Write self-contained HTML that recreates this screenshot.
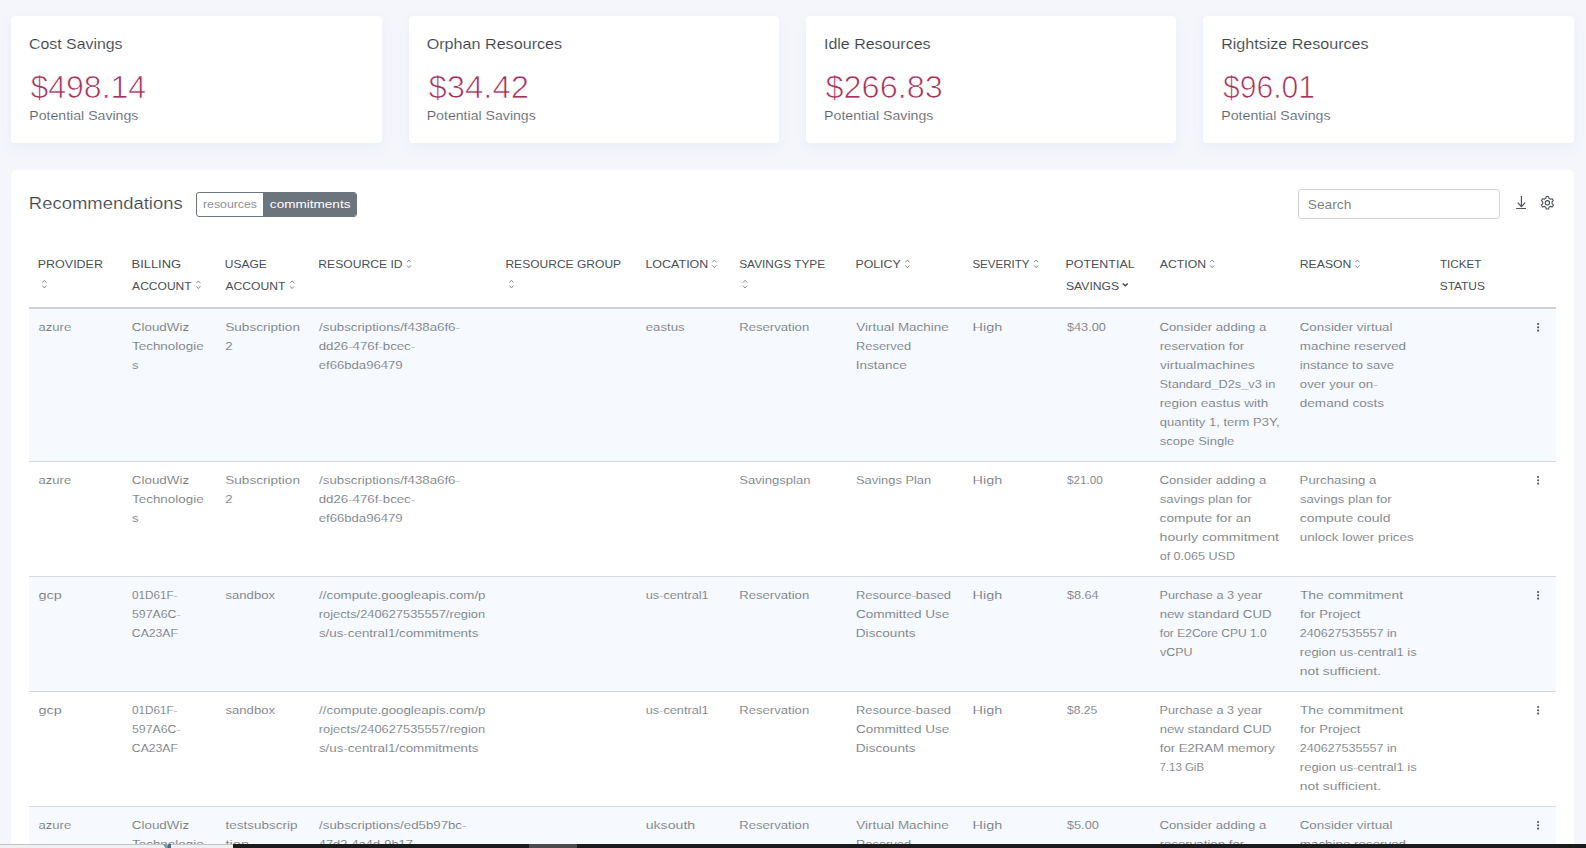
<!DOCTYPE html>
<html lang="en">
<head>
<meta charset="utf-8">
<title>Recommendations</title>
<style>
*{box-sizing:border-box;margin:0;padding:0}
html,body{width:1586px;height:848px;overflow:hidden;background:#f4f6fb;font-family:"Liberation Sans",sans-serif;color:#6f757c}
body{position:relative}
.card{position:absolute;top:16px;height:127px;background:#fff;border-radius:4px;box-shadow:0 5px 12px rgba(140,160,215,.085)}
.panel{position:absolute;left:11px;top:170px;width:1563px;height:700px;background:#fff;border-radius:5px}
.x{position:absolute;left:0;white-space:nowrap;transform-origin:0 0;display:block}
.b{font-size:11.6px;line-height:19px;height:19px;-webkit-text-stroke:.2px #fff;color:#62686f}
.bo{-webkit-text-stroke-color:#f6f9fe}
.h{font-size:11.6px;line-height:22px;height:22px;color:#495057}
.ct{font-size:14.6px;line-height:20px;color:#3d444b;-webkit-text-stroke:.12px #fff}
.cv{font-size:30.6px;line-height:38px;color:#a2335c;-webkit-text-stroke:.7px #fff}
.cs{font-size:12.9px;line-height:18px;color:#5e656d;-webkit-text-stroke:.12px #fff}
.title{font-size:15.6px;line-height:24px;color:#3a4148;-webkit-text-stroke:.2px #fff}
.tabs{position:absolute;left:196px;top:192px;height:25px;width:161px;border:1px solid #6c757d;border-radius:3px;overflow:hidden}
.tabs i{position:absolute;left:66px;top:0;width:93px;height:23px;background:#6c757d}
.ta{font-size:11.6px;line-height:23px;color:#8a9097}
.tb{font-size:11.6px;line-height:23px;color:#fff}
.search{position:absolute;left:1298px;top:189px;width:202px;height:30px;border:1px solid #ced4da;border-radius:3px;background:#fff}
.se{font-size:13.2px;line-height:20px;color:#7d848c}
.ico{position:absolute}
.st{position:absolute;left:29px;width:1527px;background:#f6f9fe}
.ln{position:absolute;left:29px;width:1527px;height:1px;background:#d5d9dd}
.bar{position:absolute;left:0;top:844px;width:1586px;height:4px;background:#1c1c1c}
.bar .l{position:absolute;left:0;top:0;width:233px;height:4px;background:#f0f0f0;border-top:1px solid #c4c4c4}
.bar .m{position:absolute;left:529px;top:0;width:48px;height:4px;background:#4b4b4b}
</style>
</head>
<body>
<div class="card" style="left:11px;width:371px"></div>
<div class="card" style="left:409px;width:370px"></div>
<div class="card" style="left:806px;width:370px"></div>
<div class="card" style="left:1203px;width:371px"></div>
<div class="panel" style="left:11px"></div>
<span class="x ct" style="top:34px;transform:matrix(1.0886,0,0,1,28.95,0)">Cost Savings</span>
<span class="x cv" style="top:68px;transform:matrix(1.0469,0,0,1,30.40,0)">$498.14</span>
<span class="x cs" style="top:107px;transform:matrix(1.0950,0,0,1,29.30,0)">Potential Savings</span>
<span class="x ct" style="top:34px;transform:matrix(1.1063,0,0,1,426.64,0)">Orphan Resources</span>
<span class="x cv" style="top:68px;transform:matrix(1.0752,0,0,1,428.40,0)">$34.42</span>
<span class="x cs" style="top:107px;transform:matrix(1.0950,0,0,1,426.70,0)">Potential Savings</span>
<span class="x ct" style="top:34px;transform:matrix(1.0952,0,0,1,823.95,0)">Idle Resources</span>
<span class="x cv" style="top:68px;transform:matrix(1.0606,0,0,1,825.50,0)">$266.83</span>
<span class="x cs" style="top:107px;transform:matrix(1.0970,0,0,1,824.09,0)">Potential Savings</span>
<span class="x ct" style="top:34px;transform:matrix(1.1014,0,0,1,1221.14,0)">Rightsize Resources</span>
<span class="x cv" style="top:68px;transform:matrix(0.9832,0,0,1,1223.00,0)">$96.01</span>
<span class="x cs" style="top:107px;transform:matrix(1.0970,0,0,1,1221.29,0)">Potential Savings</span>
<span class="x title" style="top:192px;transform:matrix(1.1826,0,0,1,28.86,0)">Recommendations</span>
<div class="tabs"><i></i></div>
<span class="x ta" style="top:192px;transform:matrix(1.0586,0,0,1,203.01,0)">resources</span>
<span class="x tb" style="top:192px;transform:matrix(1.1686,0,0,1,269.87,0)">commitments</span>
<div class="search"></div>
<span class="x se" style="top:195px;transform:matrix(1.0425,0,0,1,1307.77,0)">Search</span>
<svg class="ico" style="left:1516px;top:196px" width="11" height="14" viewBox="0 0 11 14"><path d="M5.4 0v10.4M1.7 6.7l3.7 3.9 3.7-3.9" fill="none" stroke="#495057" stroke-width="1.15"/><path d="M0.2 12.5h9.8" fill="none" stroke="#495057" stroke-width="1"/></svg>
<svg class="ico" style="left:1540px;top:195px" width="16" height="16" viewBox="0 0 16 16"><g fill="none" stroke="#495057" stroke-width="1.1" stroke-linejoin="round"><circle cx="7.4" cy="7.8" r="2.15"/><path d="M8.95 3.31 L8.56 1.56 L6.24 1.56 L5.85 3.31 L4.28 4.22 L2.57 3.68 L1.41 5.68 L2.74 6.89 L2.74 8.71 L1.41 9.92 L2.57 11.92 L4.28 11.38 L5.85 12.29 L6.24 14.04 L8.56 14.04 L8.95 12.29 L10.52 11.38 L12.23 11.92 L13.39 9.92 L12.06 8.71 L12.06 6.89 L13.39 5.68 L12.23 3.68 L10.52 4.22Z"/></g></svg>
<div class="ln" style="top:307px;height:2px;background:#ced2d7"></div>
<div class="st" style="top:309px;height:152px"></div><div class="ln" style="top:461px"></div>
<div class="ln" style="top:576px"></div><div class="st" style="top:577px;height:114px"></div><div class="ln" style="top:691px"></div>
<div class="ln" style="top:806px"></div><div class="st" style="top:807px;height:41px"></div>
<span class="x h" style="top:253px;transform:matrix(1.0759,0,0,1,37.78,0)">PROVIDER</span>
<svg class="ico" style="left:41px;top:278px" width="7" height="11" viewBox="0 0 7 11"><g transform="translate(0.80,0.70)"><path d="M0.5 3.9L2.55 1.6 4.6 3.9M0.5 7L2.55 9.3 4.6 7" fill="none" stroke="#848b92" stroke-width="1"/></g></svg>
<span class="x h" style="top:253px;transform:matrix(1.1121,0,0,1,131.54,0)">BILLING</span>
<span class="x h" style="top:275px;transform:matrix(1.0382,0,0,1,132.10,0)">ACCOUNT</span>
<svg class="ico" style="left:195px;top:279px" width="7" height="11" viewBox="0 0 7 11"><g transform="translate(0.80,0.30)"><path d="M0.5 3.9L2.55 1.6 4.6 3.9M0.5 7L2.55 9.3 4.6 7" fill="none" stroke="#848b92" stroke-width="1"/></g></svg>
<span class="x h" style="top:253px;transform:matrix(1.0338,0,0,1,224.82,0)">USAGE</span>
<span class="x h" style="top:275px;transform:matrix(1.0452,0,0,1,225.50,0)">ACCOUNT</span>
<svg class="ico" style="left:289px;top:279px" width="7" height="11" viewBox="0 0 7 11"><g transform="translate(0.60,0.30)"><path d="M0.5 3.9L2.55 1.6 4.6 3.9M0.5 7L2.55 9.3 4.6 7" fill="none" stroke="#848b92" stroke-width="1"/></g></svg>
<span class="x h" style="top:253px;transform:matrix(1.0457,0,0,1,318.31,0)">RESOURCE ID</span>
<svg class="ico" style="left:406px;top:258px" width="7" height="11" viewBox="0 0 7 11"><g transform="translate(0.40,0.40)"><path d="M0.5 3.9L2.55 1.6 4.6 3.9M0.5 7L2.55 9.3 4.6 7" fill="none" stroke="#848b92" stroke-width="1"/></g></svg>
<span class="x h" style="top:253px;transform:matrix(1.0385,0,0,1,505.41,0)">RESOURCE GROUP</span>
<svg class="ico" style="left:508px;top:278px" width="7" height="11" viewBox="0 0 7 11"><g transform="translate(0.90,0.70)"><path d="M0.5 3.9L2.55 1.6 4.6 3.9M0.5 7L2.55 9.3 4.6 7" fill="none" stroke="#848b92" stroke-width="1"/></g></svg>
<span class="x h" style="top:253px;transform:matrix(1.0785,0,0,1,645.38,0)">LOCATION</span>
<svg class="ico" style="left:711px;top:258px" width="7" height="11" viewBox="0 0 7 11"><g transform="translate(0.80,0.40)"><path d="M0.5 3.9L2.55 1.6 4.6 3.9M0.5 7L2.55 9.3 4.6 7" fill="none" stroke="#848b92" stroke-width="1"/></g></svg>
<span class="x h" style="top:253px;transform:matrix(1.0235,0,0,1,739.19,0)">SAVINGS TYPE</span>
<svg class="ico" style="left:742px;top:278px" width="7" height="11" viewBox="0 0 7 11"><g transform="translate(0.50,0.70)"><path d="M0.5 3.9L2.55 1.6 4.6 3.9M0.5 7L2.55 9.3 4.6 7" fill="none" stroke="#848b92" stroke-width="1"/></g></svg>
<span class="x h" style="top:253px;transform:matrix(1.0662,0,0,1,855.39,0)">POLICY</span>
<svg class="ico" style="left:904px;top:258px" width="7" height="11" viewBox="0 0 7 11"><g transform="translate(0.90,0.40)"><path d="M0.5 3.9L2.55 1.6 4.6 3.9M0.5 7L2.55 9.3 4.6 7" fill="none" stroke="#848b92" stroke-width="1"/></g></svg>
<span class="x h" style="top:253px;transform:matrix(0.9941,0,0,1,972.40,0)">SEVERITY</span>
<svg class="ico" style="left:1033px;top:258px" width="7" height="11" viewBox="0 0 7 11"><g transform="translate(0.60,0.40)"><path d="M0.5 3.9L2.55 1.6 4.6 3.9M0.5 7L2.55 9.3 4.6 7" fill="none" stroke="#848b92" stroke-width="1"/></g></svg>
<span class="x h" style="top:253px;transform:matrix(1.0735,0,0,1,1065.48,0)">POTENTIAL</span>
<span class="x h" style="top:275px;transform:matrix(1.0498,0,0,1,1065.98,0)">SAVINGS</span>
<svg class="ico" style="left:1121px;top:279px" width="8" height="11" viewBox="0 0 8 11"><g transform="translate(0.70,0.55)"><path d="M1 4L3.5 6.25 6 4" fill="none" stroke="#3d444c" stroke-width="1.4"/></g></svg>
<span class="x h" style="top:253px;transform:matrix(1.0584,0,0,1,1159.80,0)">ACTION</span>
<svg class="ico" style="left:1209px;top:258px" width="7" height="11" viewBox="0 0 7 11"><g transform="translate(0.60,0.40)"><path d="M0.5 3.9L2.55 1.6 4.6 3.9M0.5 7L2.55 9.3 4.6 7" fill="none" stroke="#848b92" stroke-width="1"/></g></svg>
<span class="x h" style="top:253px;transform:matrix(1.0528,0,0,1,1299.80,0)">REASON</span>
<svg class="ico" style="left:1354px;top:258px" width="7" height="11" viewBox="0 0 7 11"><g transform="translate(0.80,0.40)"><path d="M0.5 3.9L2.55 1.6 4.6 3.9M0.5 7L2.55 9.3 4.6 7" fill="none" stroke="#848b92" stroke-width="1"/></g></svg>
<span class="x h" style="top:253px;transform:matrix(1.0034,0,0,1,1439.95,0)">TICKET</span>
<span class="x h" style="top:275px;transform:matrix(1.0267,0,0,1,1439.69,0)">STATUS</span>
<span class="x b bo" style="top:317px;transform:matrix(1.1277,0,0,1,38.54,0)">azure</span>
<span class="x b bo" style="top:317px;transform:matrix(1.1549,0,0,1,131.81,0)">CloudWiz</span>
<span class="x b bo" style="top:336px;transform:matrix(1.1576,0,0,1,132.01,0)">Technologie</span>
<span class="x b bo" style="top:355px;transform:matrix(1.1275,0,0,1,132.11,0)">s</span>
<span class="x b bo" style="top:317px;transform:matrix(1.1705,0,0,1,225.26,0)">Subscription</span>
<span class="x b bo" style="top:336px;transform:matrix(1.1495,0,0,1,225.22,0)">2</span>
<span class="x b bo" style="top:317px;transform:matrix(1.1439,0,0,1,319.10,0)">/subscriptions/f438a6f6-</span>
<span class="x b bo" style="top:336px;transform:matrix(1.1418,0,0,1,318.74,0)">dd26-476f-bcec-</span>
<span class="x b bo" style="top:355px;transform:matrix(1.1313,0,0,1,318.74,0)">ef66bda96479</span>
<span class="x b bo" style="top:317px;transform:matrix(1.1417,0,0,1,645.74,0)">eastus</span>
<span class="x b bo" style="top:317px;transform:matrix(1.1321,0,0,1,739.17,0)">Reservation</span>
<span class="x b bo" style="top:317px;transform:matrix(1.1593,0,0,1,856.34,0)">Virtual Machine</span>
<span class="x b bo" style="top:336px;transform:matrix(1.1095,0,0,1,856.00,0)">Reserved</span>
<span class="x b bo" style="top:355px;transform:matrix(1.1631,0,0,1,855.78,0)">Instance</span>
<span class="x b bo" style="top:317px;transform:matrix(1.2457,0,0,1,972.52,0)">High</span>
<span class="x b bo" style="top:317px;transform:matrix(1.0994,0,0,1,1066.89,0)">$43.00</span>
<span class="x b bo" style="top:317px;transform:matrix(1.1334,0,0,1,1159.53,0)">Consider adding a</span>
<span class="x b bo" style="top:336px;transform:matrix(1.1402,0,0,1,1159.64,0)">reservation for</span>
<span class="x b bo" style="top:355px;transform:matrix(1.1772,0,0,1,1160.00,0)">virtualmachines</span>
<span class="x b bo" style="top:374px;transform:matrix(1.1010,0,0,1,1159.60,0)">Standard_D2s_v3 in</span>
<span class="x b bo" style="top:393px;transform:matrix(1.1631,0,0,1,1159.63,0)">region eastus with</span>
<span class="x b bo" style="top:412px;transform:matrix(1.1243,0,0,1,1159.64,0)">quantity 1, term P3Y,</span>
<span class="x b bo" style="top:431px;transform:matrix(1.1224,0,0,1,1159.81,0)">scope Single</span>
<span class="x b bo" style="top:317px;transform:matrix(1.1518,0,0,1,1299.72,0)">Consider virtual</span>
<span class="x b bo" style="top:336px;transform:matrix(1.1526,0,0,1,1299.84,0)">machine reserved</span>
<span class="x b bo" style="top:355px;transform:matrix(1.1250,0,0,1,1299.86,0)">instance to save</span>
<span class="x b bo" style="top:374px;transform:matrix(1.1376,0,0,1,1299.84,0)">over your on-</span>
<span class="x b bo" style="top:393px;transform:matrix(1.1665,0,0,1,1299.83,0)">demand costs</span>
<svg class="ico" style="left:1536px;top:322px" width="4" height="11" viewBox="0 0 4 11"><g transform="translate(0.60,0.80)"><g fill="#555c64"><circle cx="1.5" cy="1.2" r="1.1"/><circle cx="1.5" cy="4.5" r="1.1"/><circle cx="1.5" cy="7.8" r="1.1"/></g></g></svg>
<span class="x b" style="top:470px;transform:matrix(1.1277,0,0,1,38.54,0)">azure</span>
<span class="x b" style="top:470px;transform:matrix(1.1549,0,0,1,131.81,0)">CloudWiz</span>
<span class="x b" style="top:489px;transform:matrix(1.1576,0,0,1,132.01,0)">Technologie</span>
<span class="x b" style="top:508px;transform:matrix(1.1275,0,0,1,132.11,0)">s</span>
<span class="x b" style="top:470px;transform:matrix(1.1705,0,0,1,225.26,0)">Subscription</span>
<span class="x b" style="top:489px;transform:matrix(1.1495,0,0,1,225.22,0)">2</span>
<span class="x b" style="top:470px;transform:matrix(1.1439,0,0,1,319.10,0)">/subscriptions/f438a6f6-</span>
<span class="x b" style="top:489px;transform:matrix(1.1418,0,0,1,318.74,0)">dd26-476f-bcec-</span>
<span class="x b" style="top:508px;transform:matrix(1.1313,0,0,1,318.74,0)">ef66bda96479</span>
<span class="x b" style="top:470px;transform:matrix(1.1292,0,0,1,739.19,0)">Savingsplan</span>
<span class="x b" style="top:470px;transform:matrix(1.1112,0,0,1,855.99,0)">Savings Plan</span>
<span class="x b" style="top:470px;transform:matrix(1.2457,0,0,1,972.52,0)">High</span>
<span class="x b" style="top:470px;transform:matrix(1.0106,0,0,1,1066.90,0)">$21.00</span>
<span class="x b" style="top:470px;transform:matrix(1.1334,0,0,1,1159.53,0)">Consider adding a</span>
<span class="x b" style="top:489px;transform:matrix(1.1321,0,0,1,1159.81,0)">savings plan for</span>
<span class="x b" style="top:508px;transform:matrix(1.1821,0,0,1,1159.62,0)">compute for an</span>
<span class="x b" style="top:527px;transform:matrix(1.2203,0,0,1,1159.52,0)">hourly commitment</span>
<span class="x b" style="top:546px;transform:matrix(1.0828,0,0,1,1159.66,0)">of 0.065 USD</span>
<span class="x b" style="top:470px;transform:matrix(1.1331,0,0,1,1299.62,0)">Purchasing a</span>
<span class="x b" style="top:489px;transform:matrix(1.1283,0,0,1,1300.01,0)">savings plan for</span>
<span class="x b" style="top:508px;transform:matrix(1.2013,0,0,1,1299.81,0)">compute could</span>
<span class="x b" style="top:527px;transform:matrix(1.1550,0,0,1,1299.83,0)">unlock lower prices</span>
<svg class="ico" style="left:1536px;top:475px" width="4" height="11" viewBox="0 0 4 11"><g transform="translate(0.60,0.80)"><g fill="#555c64"><circle cx="1.5" cy="1.2" r="1.1"/><circle cx="1.5" cy="4.5" r="1.1"/><circle cx="1.5" cy="7.8" r="1.1"/></g></g></svg>
<span class="x b bo" style="top:585px;transform:matrix(1.2443,0,0,1,38.49,0)">gcp</span>
<span class="x b bo" style="top:585px;transform:matrix(1.0086,0,0,1,132.00,0)">01D61F-</span>
<span class="x b bo" style="top:604px;transform:matrix(1.0609,0,0,1,131.97,0)">597A6C-</span>
<span class="x b bo" style="top:623px;transform:matrix(1.0512,0,0,1,131.87,0)">CA23AF</span>
<span class="x b bo" style="top:585px;transform:matrix(1.1287,0,0,1,225.51,0)">sandbox</span>
<span class="x b bo" style="top:585px;transform:matrix(1.1477,0,0,1,319.10,0)">//compute.googleapis.com/p</span>
<span class="x b bo" style="top:604px;transform:matrix(1.1077,0,0,1,318.77,0)">rojects/240627535557/region</span>
<span class="x b bo" style="top:623px;transform:matrix(1.1512,0,0,1,318.90,0)">s/us-central1/commitments</span>
<span class="x b bo" style="top:585px;transform:matrix(1.0966,0,0,1,645.78,0)">us-central1</span>
<span class="x b bo" style="top:585px;transform:matrix(1.1321,0,0,1,739.17,0)">Reservation</span>
<span class="x b bo" style="top:585px;transform:matrix(1.1173,0,0,1,855.99,0)">Resource-based</span>
<span class="x b bo" style="top:604px;transform:matrix(1.1695,0,0,1,855.91,0)">Committed Use</span>
<span class="x b bo" style="top:623px;transform:matrix(1.1738,0,0,1,855.78,0)">Discounts</span>
<span class="x b bo" style="top:585px;transform:matrix(1.2457,0,0,1,972.52,0)">High</span>
<span class="x b bo" style="top:585px;transform:matrix(1.0899,0,0,1,1066.89,0)">$8.64</span>
<span class="x b bo" style="top:585px;transform:matrix(1.0911,0,0,1,1159.46,0)">Purchase a 3 year</span>
<span class="x b bo" style="top:604px;transform:matrix(1.1424,0,0,1,1159.64,0)">new standard CUD</span>
<span class="x b bo" style="top:623px;transform:matrix(1.0365,0,0,1,1159.84,0)">for E2Core CPU 1.0</span>
<span class="x b bo" style="top:642px;transform:matrix(1.0743,0,0,1,1160.00,0)">vCPU</span>
<span class="x b bo" style="top:585px;transform:matrix(1.1958,0,0,1,1299.90,0)">The commitment</span>
<span class="x b bo" style="top:604px;transform:matrix(1.1417,0,0,1,1300.03,0)">for Project</span>
<span class="x b bo" style="top:623px;transform:matrix(1.0813,0,0,1,1299.76,0)">240627535557 in</span>
<span class="x b bo" style="top:642px;transform:matrix(1.1191,0,0,1,1299.86,0)">region us-central1 is</span>
<span class="x b bo" style="top:661px;transform:matrix(1.1919,0,0,1,1299.81,0)">not sufficient.</span>
<svg class="ico" style="left:1536px;top:590px" width="4" height="11" viewBox="0 0 4 11"><g transform="translate(0.60,0.80)"><g fill="#555c64"><circle cx="1.5" cy="1.2" r="1.1"/><circle cx="1.5" cy="4.5" r="1.1"/><circle cx="1.5" cy="7.8" r="1.1"/></g></g></svg>
<span class="x b" style="top:700px;transform:matrix(1.2443,0,0,1,38.49,0)">gcp</span>
<span class="x b" style="top:700px;transform:matrix(1.0086,0,0,1,132.00,0)">01D61F-</span>
<span class="x b" style="top:719px;transform:matrix(1.0609,0,0,1,131.97,0)">597A6C-</span>
<span class="x b" style="top:738px;transform:matrix(1.0512,0,0,1,131.87,0)">CA23AF</span>
<span class="x b" style="top:700px;transform:matrix(1.1287,0,0,1,225.51,0)">sandbox</span>
<span class="x b" style="top:700px;transform:matrix(1.1477,0,0,1,319.10,0)">//compute.googleapis.com/p</span>
<span class="x b" style="top:719px;transform:matrix(1.1077,0,0,1,318.77,0)">rojects/240627535557/region</span>
<span class="x b" style="top:738px;transform:matrix(1.1512,0,0,1,318.90,0)">s/us-central1/commitments</span>
<span class="x b" style="top:700px;transform:matrix(1.0966,0,0,1,645.78,0)">us-central1</span>
<span class="x b" style="top:700px;transform:matrix(1.1321,0,0,1,739.17,0)">Reservation</span>
<span class="x b" style="top:700px;transform:matrix(1.1173,0,0,1,855.99,0)">Resource-based</span>
<span class="x b" style="top:719px;transform:matrix(1.1695,0,0,1,855.91,0)">Committed Use</span>
<span class="x b" style="top:738px;transform:matrix(1.1738,0,0,1,855.78,0)">Discounts</span>
<span class="x b" style="top:700px;transform:matrix(1.2457,0,0,1,972.52,0)">High</span>
<span class="x b" style="top:700px;transform:matrix(1.0500,0,0,1,1066.90,0)">$8.25</span>
<span class="x b" style="top:700px;transform:matrix(1.0911,0,0,1,1159.46,0)">Purchase a 3 year</span>
<span class="x b" style="top:719px;transform:matrix(1.1424,0,0,1,1159.64,0)">new standard CUD</span>
<span class="x b" style="top:738px;transform:matrix(1.1289,0,0,1,1159.83,0)">for E2RAM memory</span>
<span class="x b" style="top:757px;transform:matrix(0.9886,0,0,1,1159.46,0)">7.13 GiB</span>
<span class="x b" style="top:700px;transform:matrix(1.1958,0,0,1,1299.90,0)">The commitment</span>
<span class="x b" style="top:719px;transform:matrix(1.1417,0,0,1,1300.03,0)">for Project</span>
<span class="x b" style="top:738px;transform:matrix(1.0813,0,0,1,1299.76,0)">240627535557 in</span>
<span class="x b" style="top:757px;transform:matrix(1.1191,0,0,1,1299.86,0)">region us-central1 is</span>
<span class="x b" style="top:776px;transform:matrix(1.1919,0,0,1,1299.81,0)">not sufficient.</span>
<svg class="ico" style="left:1536px;top:705px" width="4" height="11" viewBox="0 0 4 11"><g transform="translate(0.60,0.80)"><g fill="#555c64"><circle cx="1.5" cy="1.2" r="1.1"/><circle cx="1.5" cy="4.5" r="1.1"/><circle cx="1.5" cy="7.8" r="1.1"/></g></g></svg>
<span class="x b bo" style="top:815px;transform:matrix(1.1277,0,0,1,38.54,0)">azure</span>
<span class="x b bo" style="top:815px;transform:matrix(1.1549,0,0,1,131.81,0)">CloudWiz</span>
<span class="x b bo" style="top:834px;transform:matrix(1.1576,0,0,1,132.01,0)">Technologie</span>
<span class="x b bo" style="top:815px;transform:matrix(1.1650,0,0,1,225.53,0)">testsubscrip</span>
<span class="x b bo" style="top:834px;transform:matrix(1.2696,0,0,1,225.51,0)">tion</span>
<span class="x b bo" style="top:815px;transform:matrix(1.1428,0,0,1,319.10,0)">/subscriptions/ed5b97bc-</span>
<span class="x b bo" style="top:834px;transform:matrix(1.1038,0,0,1,318.82,0)">47d2-4a4d-9b17-</span>
<span class="x b bo" style="top:815px;transform:matrix(1.2191,0,0,1,645.69,0)">uksouth</span>
<span class="x b bo" style="top:815px;transform:matrix(1.1321,0,0,1,739.17,0)">Reservation</span>
<span class="x b bo" style="top:815px;transform:matrix(1.1593,0,0,1,856.34,0)">Virtual Machine</span>
<span class="x b bo" style="top:834px;transform:matrix(1.1095,0,0,1,856.00,0)">Reserved</span>
<span class="x b bo" style="top:815px;transform:matrix(1.2457,0,0,1,972.52,0)">High</span>
<span class="x b bo" style="top:815px;transform:matrix(1.1026,0,0,1,1066.89,0)">$5.00</span>
<span class="x b bo" style="top:815px;transform:matrix(1.1334,0,0,1,1159.53,0)">Consider adding a</span>
<span class="x b bo" style="top:834px;transform:matrix(1.1402,0,0,1,1159.64,0)">reservation for</span>
<span class="x b bo" style="top:815px;transform:matrix(1.1518,0,0,1,1299.72,0)">Consider virtual</span>
<span class="x b bo" style="top:834px;transform:matrix(1.1526,0,0,1,1299.84,0)">machine reserved</span>
<svg class="ico" style="left:1536px;top:820px" width="4" height="11" viewBox="0 0 4 11"><g transform="translate(0.60,0.80)"><g fill="#555c64"><circle cx="1.5" cy="1.2" r="1.1"/><circle cx="1.5" cy="4.5" r="1.1"/><circle cx="1.5" cy="7.8" r="1.1"/></g></g></svg>
<div class="bar"><div class="l"></div><div class="m"></div><svg class="ico" style="left:163px;top:0" width="9" height="4" viewBox="0 0 9 4"><path d="M0 0h3.4l1 1.6L5.2 0H8v4H2.2z" fill="#7f9aa4"/><path d="M5.2 0H8v4H4.6z" fill="#4f6d7b"/></svg></div>
</body>
</html>
